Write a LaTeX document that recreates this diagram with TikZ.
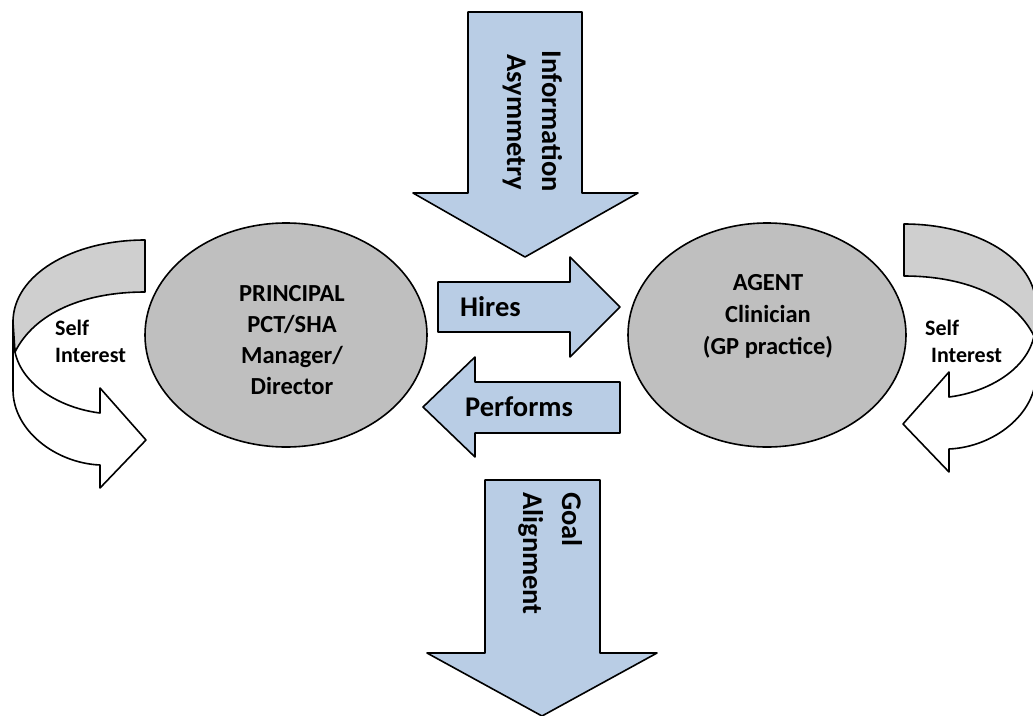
\documentclass[tikz,border=0pt]{standalone}
\usepackage{fontspec}
\setmainfont{Carlito}
\usetikzlibrary{shapes.geometric}
\definecolor{blockblue}{HTML}{B9CDE5}
\definecolor{discgray}{HTML}{BFBFBF}
\definecolor{bandgray}{HTML}{CFCFCF}

\begin{document}
\begin{tikzpicture}[x=1pt,y=-1pt,line join=round,
  outline/.style={draw=black,line width=1.6pt},
  blockarrow/.style={outline,fill=blockblue},
  party/.style={ellipse,outline,fill=discgray,inner sep=0pt},
  partytext/.style={font=\bfseries\fontsize{24.5}{31}\selectfont,anchor=base,inner sep=0pt},
  flowtext/.style={font=\bfseries\fontsize{28.5}{34}\selectfont,inner sep=0pt},
  selftext/.style={font=\bfseries\fontsize{22}{27}\selectfont,anchor=base west,inner sep=0pt}]
\useasboundingbox (0,0) rectangle (1033,715);

% left curved "self interest" arrow: front band, then back band
\path[outline,fill=white]
  (13,320) -- (13,390) .. controls (13,430) and (55,463) .. (100,465)
  -- (100,488) -- (146,440) -- (100,388) -- (100,413)
  .. controls (60,408) and (22,385) .. (15,352) -- cycle;
\path[outline,fill=bandgray]
  (145,240) .. controls (72,240) and (13,275) .. (13,322)
  -- (15,352) .. controls (35,312) and (85,292) .. (145,292) -- cycle;

% right curved "self interest" arrow (mirrored)
\path[outline,fill=white]
  (1036,304) -- (1036,374) .. controls (1036,414) and (994,447) .. (949,449)
  -- (949,472) -- (903,424) -- (949,372) -- (949,397)
  .. controls (989,392) and (1027,369) .. (1034,336) -- cycle;
\path[outline,fill=bandgray]
  (904,224) .. controls (977,224) and (1036,259) .. (1036,306)
  -- (1034,336) .. controls (1014,296) and (964,276) .. (904,276) -- cycle;

\node[selftext] (selfL1) at (55,335) {Self};
\node[selftext] (selfL2) at (55,362) {Interest};
\node[selftext] (selfR1) at (925,335) {Self};
\node[selftext] (selfR2) at (931,362) {Interest};

% the two parties
\node[party,minimum width=282pt,minimum height=224pt] (principal) at (286,335) {};
\node[party,minimum width=278pt,minimum height=224pt] (agent) at (767,335) {};

\node[partytext] (p1) at (292,301) {PRINCIPAL};
\node[partytext] (p2) at (292,332) {PCT/SHA};
\node[partytext] (p3) at (292,363) {Manager/};
\node[partytext] (p4) at (292,394) {Director};

\node[partytext] (a1) at (768,290) {AGENT};
\node[partytext] (a2) at (768,322) {Clinician};
\node[partytext] (a3) at (768,354) {(GP practice)};

% block arrows
\path[blockarrow] (468,12) -- (582,12) -- (582,193) -- (638,193) -- (525,257)
  -- (413,193) -- (468,193) -- cycle;
\path[blockarrow] (438,282) -- (570,282) -- (570,257) -- (620,307) -- (570,357)
  -- (570,332) -- (438,332) -- cycle;
\path[blockarrow] (620,382) -- (475,382) -- (475,357) -- (423,407) -- (475,457)
  -- (475,433) -- (620,433) -- cycle;
\path[blockarrow] (485,480) -- (600,480) -- (600,653) -- (657,653) -- (542,716)
  -- (427,653) -- (485,653) -- cycle;

\node[flowtext,anchor=base,rotate=-90] (info1) at (542,121.5) {Information};
\node[flowtext,anchor=base,rotate=-90] (info2) at (507,122.5) {Asymmetry};
\node[flowtext,anchor=base west] (hires) at (460,316) {Hires};
\node[flowtext,anchor=base west] (performs) at (465,416) {Performs};
\node[flowtext,anchor=base west,rotate=-90] (goal1) at (562,492) {Goal};
\node[flowtext,anchor=base west,rotate=-90] (goal2) at (523,492) {Alignment};
\end{tikzpicture}
\end{document}
